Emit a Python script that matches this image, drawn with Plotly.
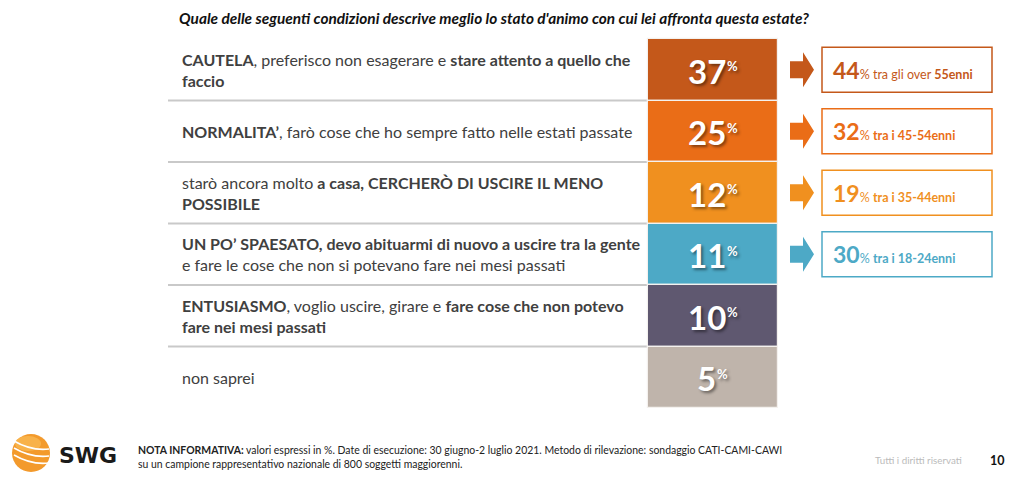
import plotly.graph_objects as go

# ---------------- data ----------------
labels = [
    "<b>CAUTELA</b>, preferisco non esagerare e <b>stare attento a quello che</b><br><b>faccio</b>",
    "<b>NORMALITA’</b>, farò cose che ho sempre fatto nelle estati passate",
    "starò ancora molto <b>a casa, CERCHERÒ DI USCIRE IL MENO</b><br><b>POSSIBILE</b>",
    "<b>UN PO’ SPAESATO, devo abituarmi di nuovo a uscire tra la gente</b><br>e fare le cose che non si potevano fare nei mesi passati",
    "<b>ENTUSIASMO</b>, voglio uscire, girare e <b>fare cose che non potevo</b><br><b>fare nei mesi passati</b>",
    "non saprei",
]
values = [37, 25, 12, 11, 10, 5]
cell_colors = ["#C4581A", "#EA6D17", "#F0901F", "#4DA9C6", "#5F5870", "#BFB4AB"]

highlight_values = [44, 32, 19, 30]
highlight_texts = [
    "tra gli over <b>55enni</b>",
    "<b>tra i 45-54enni</b>",
    "<b>tra i 35-44enni</b>",
    "<b>tra i 18-24enni</b>",
]
highlight_colors = ["#C4581A", "#EA6D17", "#F0901F", "#4DA9C6"]

title = "Quale delle seguenti condizioni descrive meglio lo stato d'animo con cui lei affronta questa estate?"
note = ("<b>NOTA INFORMATIVA:</b> valori espressi in %. Date di esecuzione: 30 giugno-2 luglio 2021. "
        "Metodo di rilevazione: sondaggio CATI-CAMI-CAWI<br>"
        "su un campione rappresentativo nazionale di 800 soggetti maggiorenni.")
rights = "Tutti i diritti riservati"
page = "10"

# ---------------- layout constants (pixels) ----------------
W, H = 1024, 485
TOP, ROWH = 39, 61.5
CELL_X0, CELL_W = 648, 130
LBL_X = 180
FONT = "Lato"
DIGIT_W, PCT_W = 18.5, 12

n = len(values)
rows = list(range(n))


def py(p):  # pixel y -> row-index axis
    return (p - TOP) / ROWH - 0.5


def pp(p):  # pixel y -> paper
    return 1 - p / H


fig = go.Figure()

# value cells
fig.add_trace(go.Bar(
    y=rows, x=[CELL_W] * n, base=CELL_X0, orientation="h", width=1.0,
    marker=dict(color=cell_colors, line=dict(color="#F4F1EE", width=1.2)),
    hoverinfo="skip", showlegend=False,
))

annotations = []
shapes = []

# separator lines
for r in rows[:-1]:
    shapes.append(dict(type="line", xref="x", yref="y", x0=168, x1=CELL_X0,
                       y0=r + 0.5, y1=r + 0.5, line=dict(color="#C9C9C9", width=2), layer="below"))

shadow = "2px 2px 3px rgba(0,0,0,0.45)"
for r, (lab, v) in enumerate(zip(labels, values)):
    annotations.append(dict(x=LBL_X, y=r, xref="x", yref="y", xanchor="left", yanchor="middle",
                            align="left", showarrow=False, text=lab,
                            font=dict(family=FONT, size=16, color="#404040")))
    split = CELL_X0 + CELL_W / 2 + 1 + (len(str(v)) * DIGIT_W - PCT_W) / 2
    annotations.append(dict(x=split, y=r + 0.02, xref="x", yref="y", borderpad=0,
                            xanchor="right", yanchor="middle", showarrow=False,
                            text=f"<b>{v}</b>",
                            font=dict(family=FONT, size=33, color="white", shadow=shadow)))
    annotations.append(dict(x=split - 1, y=r - 3.5 / ROWH, xref="x", yref="y", borderpad=0,
                            xanchor="left", yanchor="middle", showarrow=False,
                            text="<b>%</b>",
                            font=dict(family=FONT, size=13, color="white", shadow=shadow)))

# arrows + highlight boxes
bh, hh = 8.5 / ROWH, 17.5 / ROWH
for r, (hv, ht, hc) in enumerate(zip(highlight_values, highlight_texts, highlight_colors)):
    path = (f"M 790,{r - bh} L 803,{r - bh} L 803,{r - hh} L 814,{r} L 803,{r + hh} "
            f"L 803,{r + bh} L 790,{r + bh} Z")
    shapes.append(dict(type="path", xref="x", yref="y", path=path, fillcolor=hc,
                       line=dict(width=0)))
    shapes.append(dict(type="rect", xref="x", yref="y", x0=822, x1=992,
                       y0=r - 22.5 / ROWH, y1=r + 22.5 / ROWH,
                       line=dict(color=hc, width=1.5), fillcolor="white", opacity=1))
    annotations.append(dict(x=831, y=r, xref="x", yref="y", xanchor="left", yanchor="middle",
                            showarrow=False,
                            text=f"<b>{hv}</b><span style='font-size:12.5px'>% {ht}</span>",
                            font=dict(family=FONT, size=23, color=hc)))

# title
annotations.append(dict(x=177, y=pp(18), xref="x", yref="paper", xanchor="left", yanchor="middle",
                        showarrow=False, text=f"<b><i>{title}</i></b>",
                        font=dict(family=FONT, size=15.4, color="#111111")))

# footer
annotations.append(dict(x=136, y=pp(457), xref="x", yref="paper", xanchor="left", yanchor="middle",
                        align="left", showarrow=False, text=note,
                        font=dict(family=FONT, size=10.45, color="#222222")))
annotations.append(dict(x=873, y=pp(460), xref="x", yref="paper", xanchor="left", yanchor="middle",
                        showarrow=False, text=rights,
                        font=dict(family=FONT, size=9.8, color="#BBBBBB")))
annotations.append(dict(x=988, y=pp(460), xref="x", yref="paper", xanchor="left", yanchor="middle",
                        showarrow=False, text=f"<b>{page}</b>",
                        font=dict(family=FONT, size=12.5, color="#111111")))

# SWG logo
cx, cy, rad = 31, 453, 19
shapes.append(dict(type="circle", xref="x", yref="paper", x0=cx - rad, x1=cx + rad,
                   y0=pp(cy + rad), y1=pp(cy - rad), fillcolor="#F39A2C", line=dict(width=0)))
shapes.append(dict(type="circle", xref="x", yref="paper", x0=cx - rad + 3, x1=cx + rad - 9,
                   y0=pp(cy - 2), y1=pp(cy - rad + 2), fillcolor="#F8B24A", line=dict(width=0)))
for k, off in enumerate([-6, 1, 8]):
    shapes.append(dict(type="path", xref="x", yref="paper",
                       path=(f"M {cx - rad + 2},{pp(cy + off - 6)} Q {cx},{pp(cy + off + 4)} "
                             f"{cx + rad - 1},{pp(cy + off + 2)}"),
                       line=dict(color="white", width=1.6)))
annotations.append(dict(x=57, y=pp(455), xref="x", yref="paper", xanchor="left", yanchor="middle",
                        showarrow=False, text="<b>SWG</b>",
                        font=dict(family="DejaVu Sans", size=22, color="#1A1A1A")))

fig.update_layout(
    width=W, height=H, margin=dict(l=0, r=0, t=0, b=0),
    paper_bgcolor="white", plot_bgcolor="white",
    xaxis=dict(range=[0, W], visible=False, fixedrange=True),
    yaxis=dict(range=[py(H), py(0)], visible=False, fixedrange=True),
    shapes=shapes, annotations=annotations, bargap=0,
)

fig.write_html("out.html", config={"displayModeBar": False},
               post_script="document.body.style.margin='0px';")
